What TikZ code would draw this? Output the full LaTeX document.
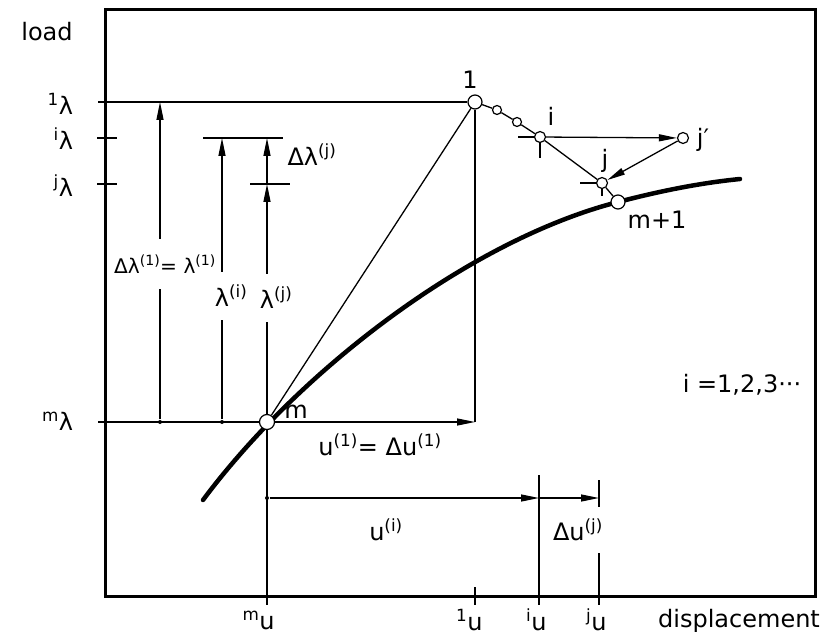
\documentclass[tikz,border=0pt]{standalone}
\usepackage{fontspec}
\setmainfont{DejaVu Sans}
\usetikzlibrary{arrows.meta}

\tikzset{
  pt/.style={circle, draw, fill=white, line width=1.2pt, inner sep=0pt, minimum size=#1},
  pt/.default=9pt,
  dot/.style={circle, fill, inner sep=0pt, minimum size=4pt},
  lbl/.style={font=\fontsize{24}{28}\selectfont, inner sep=1pt},
  gap/.style={lbl, fill=white, inner ysep=13pt},
  arr/.style={-{Triangle[length=18pt,width=7pt]}},
  curve/.style={line width=4.5pt, line cap=round}
}

\begin{document}
\begin{tikzpicture}[x=1pt, y=-1pt, line width=1.3pt]
\useasboundingbox (0,0) rectangle (832,639);

% frame
\draw[line width=3pt] (105,10) rectangle (815,596);

% equilibrium path
\draw[curve] (203,500) .. controls (300,370) and (470,240) .. (618,202)
  .. controls (660,191) and (700,183) .. (740,179);

% points
\node[pt=15pt] (m) at (267,422) {};
\node[pt=14pt] (p1) at (475,102) {};
\node[pt=9pt] (a1) at (497,110) {};
\node[pt=9pt] (a2) at (517,122) {};
\node[pt=11pt] (pi) at (540,137) {};
\node[pt=11pt] (pj) at (602,183) {};
\node[pt=11pt] (pjp) at (683,138) {};
\node[pt=14pt] (m1) at (618,202) {};

\node[dot] (d1) at (160,422) {};
\node[dot] (d2) at (222,422) {};
\node[dot] (d3) at (267,498) {};

\coordinate (l1) at (98,102);
\coordinate (lm) at (98,422);
\coordinate (c1) at (475,422);
\coordinate (t1) at (160,102);
\coordinate (ti) at (222,138);
\coordinate (tj) at (267,184);
\coordinate (tji) at (267,138);
\coordinate (um) at (267,605);
\coordinate (ui) at (539,498);
\coordinate (uj) at (599,498);

% load levels and ticks
\draw (l1) -- (p1);
\draw (lm) -- (m);
\draw (97,138) -- (117,138);
\draw (97,184) -- (117,184);
\draw (203,138) -- (283,138);
\draw (250,184) -- (290,184);

% load increments
\draw[arr] (d1) -- (t1);
\draw[arr] (d2) -- (ti);
\draw[arr] (m) -- (tj);
\draw[arr] (tj) -- (tji);

% tangent step and iteration
\draw (m) -- (p1);
\draw[arr] (m) -- (c1);
\draw (c1) -- (p1);
\draw (p1) -- (a1) -- (a2) -- (pi) -- (pj) -- (m1);
\draw (pi.center) ++(-22,0) -- (pi.west);
\draw (pi.south) -- ++(0,15);
\draw (pj.center) ++(-22,0) -- (pj.west);
\draw (pj.south) -- ++(0,7);
\draw[arr] (pi) -- (pjp);
\draw[arr] (pjp) -- (pj);

% displacements
\draw (m) -- (um);
\draw[arr] (d3) -- (ui);
\draw[arr] (ui) -- (uj);
\draw (539,475) -- (539,605);
\draw (599,480) -- (599,605);
\draw (475,587) -- (475,605);

% labels
\node[lbl] at (47,32) {load};
\node[lbl] at (66,104) {\llap{\textsuperscript{1}}λ};
\node[lbl] at (66,139) {\llap{\textsuperscript{i}}λ};
\node[lbl] at (66,186) {\llap{\textsuperscript{j}}λ};
\node[lbl] at (66,421) {\llap{\textsuperscript{m}}λ};
\node[gap, inner ysep=16pt] at (165,264) {\scalebox{0.84}{Δλ\textsuperscript{(1)}= λ\textsuperscript{(1)}}};
\node[gap] at (222,296) {λ\rlap{\textsuperscript{(i)}}};
\node[gap] at (267,298) {λ\rlap{\textsuperscript{(j)}}};
\node[lbl] at (312,155) {Δλ\textsuperscript{(j)}};
\node[lbl] at (470,80) {1};
\node[lbl] at (551,116) {i};
\node[lbl] at (605,161) {j};
\node[lbl] at (703,140) {j′};
\node[lbl] at (657,220) {m+1};
\node[lbl] at (296,412) {m};
\node[lbl] at (742,385) {i =1,2,3···};
\node[lbl] at (380,445) {u\textsuperscript{(1)}= Δu\textsuperscript{(1)}};
\node[lbl] at (386,530) {u\textsuperscript{(i)}};
\node[gap, inner ysep=12pt] at (578,530) {Δu\textsuperscript{(j)}};
\node[lbl] at (267,620) {\llap{\textsuperscript{m}}u};
\node[lbl] at (475,620) {\llap{\textsuperscript{1}}u};
\node[lbl] at (539,620) {\llap{\textsuperscript{i}}u};
\node[lbl] at (599,620) {\llap{\textsuperscript{j}}u};
\node[lbl] at (739,621) {displacement};
\end{tikzpicture}
\end{document}
